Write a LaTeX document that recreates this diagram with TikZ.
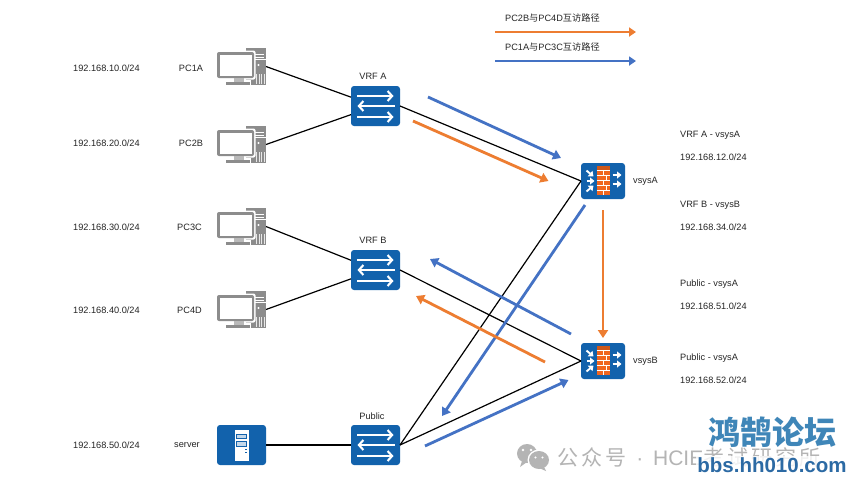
\documentclass[tikz,border=0pt]{standalone}
\usepackage{fontspec}
\setmainfont{Liberation Sans}
\newfontfamily\cjk{Noto Sans CJK SC}
\usetikzlibrary{arrows.meta}
\definecolor{hwblue}{HTML}{1262AC}
\definecolor{pcgray}{HTML}{8C8C8C}
\definecolor{pathorange}{HTML}{ED7D31}
\definecolor{pathblue}{HTML}{4472C4}
\definecolor{fwbrick}{HTML}{F0661F}
\definecolor{labelink}{HTML}{262626}
\definecolor{markgray}{HTML}{B4B4B4}
\definecolor{logoblue}{HTML}{3F86B8}
\definecolor{logodeep}{HTML}{2C6AA4}
\tikzset{
  x=1pt,y=-1pt,
  lbl/.style={font=\fontsize{9.2}{11}\selectfont,text=labelink,inner sep=0pt},
  lbll/.style={lbl,anchor=west},
  blockbox/.style={fill=hwblue,rounded corners=3pt,inner sep=0pt,outer sep=0pt,minimum width=49pt,minimum height=40pt},
  fwbox/.style={fill=hwblue,rounded corners=3pt,inner sep=0pt,outer sep=0pt,minimum width=44pt,minimum height=36pt},
  pcbox/.style={inner sep=0pt,outer sep=0pt,minimum width=49pt,minimum height=37pt},
  link/.style={draw=black,line width=1.2pt},
  orangepath/.style={draw=pathorange,line width=2.8pt,-{Triangle[length=8pt,width=10pt]}},
  bluepath/.style={draw=pathblue,line width=2.8pt,-{Triangle[length=8pt,width=10pt]}},
  legendorange/.style={draw=pathorange,line width=2.4pt,-{Triangle[length=7pt,width=9pt]}},
  legendblue/.style={draw=pathblue,line width=2.4pt,-{Triangle[length=7pt,width=9pt]}},
  whitearrow/.style={draw=white,line width=2.1pt,-{Straight Barb[length=4.5pt,width=10pt,line width=2.1pt]}},
  fwarrow/.style={draw=white,line width=1.9pt,-{Triangle[length=4.5pt,width=7pt]}},
  swicon/.pic={
    \draw[whitearrow] (-18.5,-10) -- (18,-10);
    \draw[whitearrow] (19,0) -- (-18,0);
    \draw[whitearrow] (-18.5,11) -- (18,11);
  },
  fwicon/.pic={
    \fill[fwbrick] (-6.5,-15) rectangle (7,14);
    \fill[fwbrick!85!black] (-6.5,-15) rectangle (7,-11);
    \foreach \yy in {-11,-6,-1,4,9.5}
      \draw[white,line width=.6pt] (-6.5,\yy) -- (7,\yy);
    \foreach \xx/\ya/\yb in {0/-11/-6,3.5/-6/-1,0/-1/4,3.5/4/9.5,0/9.5/14}
      \draw[white,line width=.6pt] (\xx,\ya) -- (\xx,\yb);
    \draw[fwarrow] (-16.5,-10.5) -- (-9.5,-4.5);
    \draw[fwarrow] (-16.5,0) -- (-8.5,0);
    \draw[fwarrow] (-16.5,10.5) -- (-9.5,4.5);
    \draw[fwarrow] (9.5,-6) -- (18.5,-6);
    \draw[fwarrow] (9.5,3) -- (18.5,3);
  },
  pcicon/.pic={
    % tower with drive bays and vents
    \fill[pcgray] (4.5,-18.5) rectangle (24.5,18.5);
    \fill[white] (12.5,-13) rectangle (22.5,-8.5);
    \fill[pcgray] (12.5,-12) rectangle (22.5,-9.5);
    \draw[white,line width=.7pt] (12.5,-7) -- (24,-7);
    \fill[white] (17,-1.5) circle (1.1);
    \foreach \vx in {14.5,17,19.5,22}
      \fill[white!80!pcgray] (\vx,7) rectangle ++(1,10);
    % monitor frame on its foot, kept clear of the tower by a white edge
    \fill[white,rounded corners=2pt] (-26,-16) rectangle (14,13);
    \fill[white] (-17,13) rectangle (9,19.5);
    \fill[pcgray,rounded corners=2pt] (-24.5,-14.5) rectangle (12.5,11.5);
    \fill[white] (-22,-12) rectangle (10,9);
    \fill[pcgray!60] (-8,11.5) rectangle (2,15);
    \fill[pcgray] (-16,15) rectangle (8,18.5);
  },
  srvicon/.pic={
    \fill[white] (-7,-15.5) rectangle (7,15.5);
    \fill[hwblue] (-5.5,-11.5) rectangle (5.5,-6);
    \fill[white!75!hwblue] (-4.5,-10.5) rectangle (4.5,-7);
    \fill[hwblue] (-5.5,-4) rectangle (5.5,1.5);
    \fill[white!75!hwblue] (-4.5,-3) rectangle (4.5,0.5);
    \fill[hwblue] (3,4) rectangle (5.5,5);
    \fill[hwblue] (3,7) rectangle (5.5,8);
  }
}
\begin{document}
\begin{tikzpicture}
\useasboundingbox (0,0) rectangle (864,491);
\fill[white] (0,0) rectangle (864,491);

% end hosts
\node[pcbox] (pca) at (241.5,66.5) {};
\node[pcbox] (pcb) at (241.5,144.5) {};
\node[pcbox] (pcc) at (241.5,226.5) {};
\node[pcbox] (pcd) at (241.5,309.5) {};
\node[blockbox] (srv) at (241.5,445) {};
\foreach \hn in {pca,pcb,pcc,pcd} \pic at (\hn) {pcicon};
\pic at (srv) {srvicon};

% routing instances and firewall systems
\node[blockbox] (vrfa) at (375.5,106) {};
\node[blockbox] (vrfb) at (375.5,270) {};
\node[blockbox] (pub) at (375.5,445) {};
\node[fwbox] (vsa) at (603,181) {};
\node[fwbox] (vsb) at (603,361) {};
\foreach \sn in {vrfa,vrfb,pub} \pic at (\sn) {swicon};
\foreach \fn in {vsa,vsb} \pic at (\fn) {fwicon};

% physical links
\draw[link] (pca.east) -- (vrfa);
\draw[link] (pcb.east) -- (vrfa);
\draw[link] (pcc.east) -- (vrfb);
\draw[link] (pcd.east) -- (vrfb);
\draw[link] (srv.east) -- (pub.west);
\draw[link] (vrfa.east) -- (vsa.west);
\draw[link] (vrfb.east) -- (vsb.west);
\draw[link] (pub.east) -- (vsa.west);
\draw[link] (pub.east) -- (vsb.west);

% traffic paths
\coordinate (b1s) at (428,97);   \coordinate (b1e) at (561,158);
\coordinate (o1s) at (413,121);  \coordinate (o1e) at (548.5,181);
\coordinate (b2s) at (585,205);  \coordinate (b2e) at (442,416);
\coordinate (o2s) at (603,210);  \coordinate (o2e) at (603,338);
\coordinate (b3s) at (571,334);  \coordinate (b3e) at (430,259);
\coordinate (o3s) at (545,362);  \coordinate (o3e) at (416,296);
\coordinate (b4s) at (425,446);  \coordinate (b4e) at (568.5,380);
\draw[bluepath] (b1s) -- (b1e);
\draw[orangepath] (o1s) -- (o1e);
\draw[bluepath] (b2s) -- (b2e);
\draw[orangepath] (o2s) -- (o2e);
\draw[bluepath] (b3s) -- (b3e);
\draw[orangepath] (o3s) -- (o3e);
\draw[bluepath] (b4s) -- (b4e);

% legend
\coordinate (lo1) at (495,32); \coordinate (lo2) at (636,32);
\coordinate (lb1) at (495,61); \coordinate (lb2) at (636,61);
\draw[legendorange] (lo1) -- (lo2);
\draw[legendblue] (lb1) -- (lb2);
\node[lbll] (lt1) at (505,18) {PC2B{\cjk 与}PC4D{\cjk 互访路径}};
\node[lbll] (lt2) at (505,47) {PC1A{\cjk 与}PC3C{\cjk 互访路径}};

% subnets and host names
\node[lbll] (n1) at (73,68.5) {192.168.10.0/24};
\node[lbll] (n2) at (73,143.5) {192.168.20.0/24};
\node[lbll] (n3) at (73,227.5) {192.168.30.0/24};
\node[lbll] (n4) at (73,310.5) {192.168.40.0/24};
\node[lbll] (n5) at (73,445.5) {192.168.50.0/24};
\node[lbl] (h1) at (191,68.5) {PC1A};
\node[lbl] (h2) at (191,143.5) {PC2B};
\node[lbl] (h3) at (189.5,227.5) {PC3C};
\node[lbl] (h4) at (189.5,310.5) {PC4D};
\node[lbl] (h5) at (187,445.5) {server};

% device names
\node[lbl] (d1) at (373,76) {VRF A};
\node[lbl] (d2) at (373,240) {VRF B};
\node[lbl] (d3) at (372,416) {Public};
\node[lbll] (d4) at (633,181.5) {vsysA};
\node[lbll] (d5) at (633,361.5) {vsysB};

% interconnect subnets
\node[lbll] (s1) at (680,135.5) {VRF A - vsysA};
\node[lbll] (s2) at (680,157.5) {192.168.12.0/24};
\node[lbll] (s3) at (680,205.5) {VRF B - vsysB};
\node[lbll] (s4) at (680,227.5) {192.168.34.0/24};
\node[lbll] (s5) at (680,284.5) {Public - vsysA};
\node[lbll] (s6) at (680,306.5) {192.168.51.0/24};
\node[lbll] (s7) at (680,358.5) {Public - vsysA};
\node[lbll] (s8) at (680,380.5) {192.168.52.0/24};

% account mark and forum logo along the lower edge
\fill[markgray] (527,453.5) ellipse (10 and 9.5);
\fill[markgray] (522,461) -- (520,467) -- (527,462) -- cycle;
\fill[white] (539,460) ellipse (11.5 and 10.5);
\fill[markgray] (539,460) ellipse (10 and 9);
\fill[markgray] (544,467) -- (546,471) -- (539,468) -- cycle;
\fill[white] (523,450) circle (1.3) (531,450) circle (1.3) (535.5,457.5) circle (1.1) (542.5,457.5) circle (1.1);
\node[anchor=west,inner sep=0pt,text=markgray,font=\fontsize{21}{23}\selectfont] (wm) at (557,457)
  {{\cjk\addfontfeature{LetterSpace=15}公众号}\hspace{4pt} · \hspace{4pt}HCIE{\cjk\addfontfeature{LetterSpace=15}考试研究所}};
\node[anchor=center,inner sep=0pt,text=logoblue,font=\fontsize{32}{34}\cjk\bfseries] (lg) at (772,432) {鸿鹄论坛};
\node[anchor=center,inner sep=1pt,fill=white,fill opacity=.8,text opacity=1,text=logodeep,font=\fontsize{20.5}{22}\selectfont\bfseries] (lg2) at (772,465) {bbs.hh010.com};
\end{tikzpicture}
\end{document}
